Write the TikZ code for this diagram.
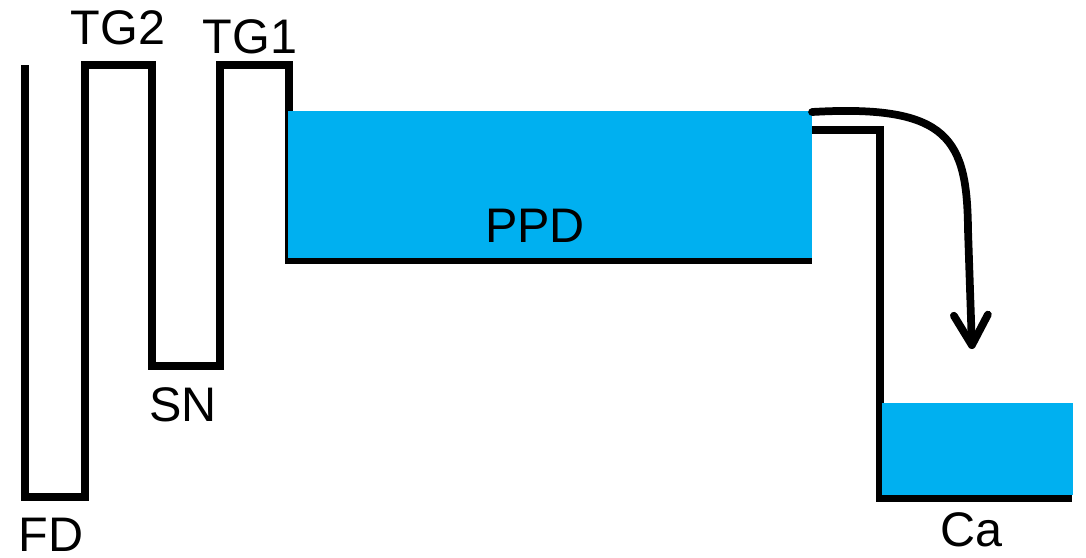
\documentclass[tikz,border=0pt]{standalone}
\usepackage{fontspec}
\setmainfont{Liberation Sans}
\usetikzlibrary{arrows.meta}
\definecolor{wellblue}{RGB}{0,176,240}

\begin{document}
\begin{tikzpicture}[x=0.01cm,y=-0.01cm,
  level/.style={line width=2.2pt,line join=miter},
  lbl/.style={font=\fontsize{13.8}{16}\selectfont,inner sep=0pt}]
\useasboundingbox (0,0) rectangle (1086,557);
\draw [level] (25,65) -- (25,497) -- (85,497) -- (85,65) -- (152,65) -- (152,366) -- (220,366) -- (220,65) -- (289,65) -- (289,260) -- (808,260) -- (808,130) -- (880,130) -- (880,498) -- (1072,498);
\fill [wellblue] (288,111) rectangle (812,258);
\fill [wellblue] (882,403) rectangle (1073,495);
\node (fd)  at (51,535)  [lbl] {FD};
\node (tg2) at (118,28)  [lbl] {TG2};
\node (sn)  at (183,405) [lbl] {SN};
\node (tg1) at (250,37)  [lbl] {TG1};
\node (ppd) at (535,226) [lbl] {PPD};
\node (ca)  at (971,530) [lbl] {Ca};
\coordinate (leak) at (812,112);
\coordinate (drop) at (972,349);
\draw [level,line cap=round,-{Straight Barb[length=0.3cm,width=0.34cm,round]}] (leak) .. controls (950,104) and (967,140) .. (968,230) -- (drop);
\end{tikzpicture}
\end{document}
